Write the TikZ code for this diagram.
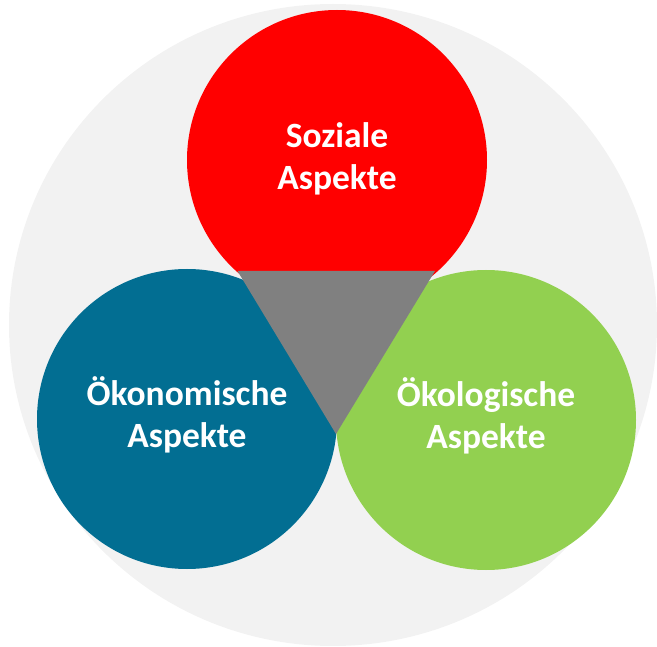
\documentclass[tikz,border=0pt]{standalone}
\usepackage{fontspec}
\setmainfont{Carlito}
\definecolor{bgcirc}{HTML}{F2F2F2}
\definecolor{socred}{HTML}{FF0000}
\definecolor{ecoblue}{HTML}{026E92}
\definecolor{ecogreen}{HTML}{92D050}
\definecolor{midgray}{HTML}{808080}
\tikzset{
  label text/.style={text=white, font=\fontsize{35.5}{42.5}\selectfont\bfseries, align=center},
  aspect circle/.style={circle, minimum size=300pt, inner sep=0pt}
}
\begin{document}
\begin{tikzpicture}[x=1pt,y=-1pt]
\useasboundingbox (0,0) rectangle (657,647);
\fill[bgcirc] (333,325) ellipse [x radius=324, y radius=321];
\node[aspect circle, fill=socred] (soz) at (337,160) {};
\node[aspect circle, fill=ecoblue] (oek) at (187,419) {};
\node[aspect circle, fill=ecogreen] (eko) at (486,420) {};
\coordinate (tl) at (237.5,271);
\coordinate (tr) at (435,271);
\coordinate (tb) at (336,434);
\fill[midgray] (tl) -- (tr) -- (tb) -- cycle;
\node[label text] at ([yshift=1]soz.center) {Soziale\\Aspekte};
\node[label text] at ([yshift=4]oek.center) {Ökonomische\\Aspekte};
\node[label text] at ([yshift=4]eko.center) {Ökologische\\Aspekte};
\end{tikzpicture}
\end{document}
